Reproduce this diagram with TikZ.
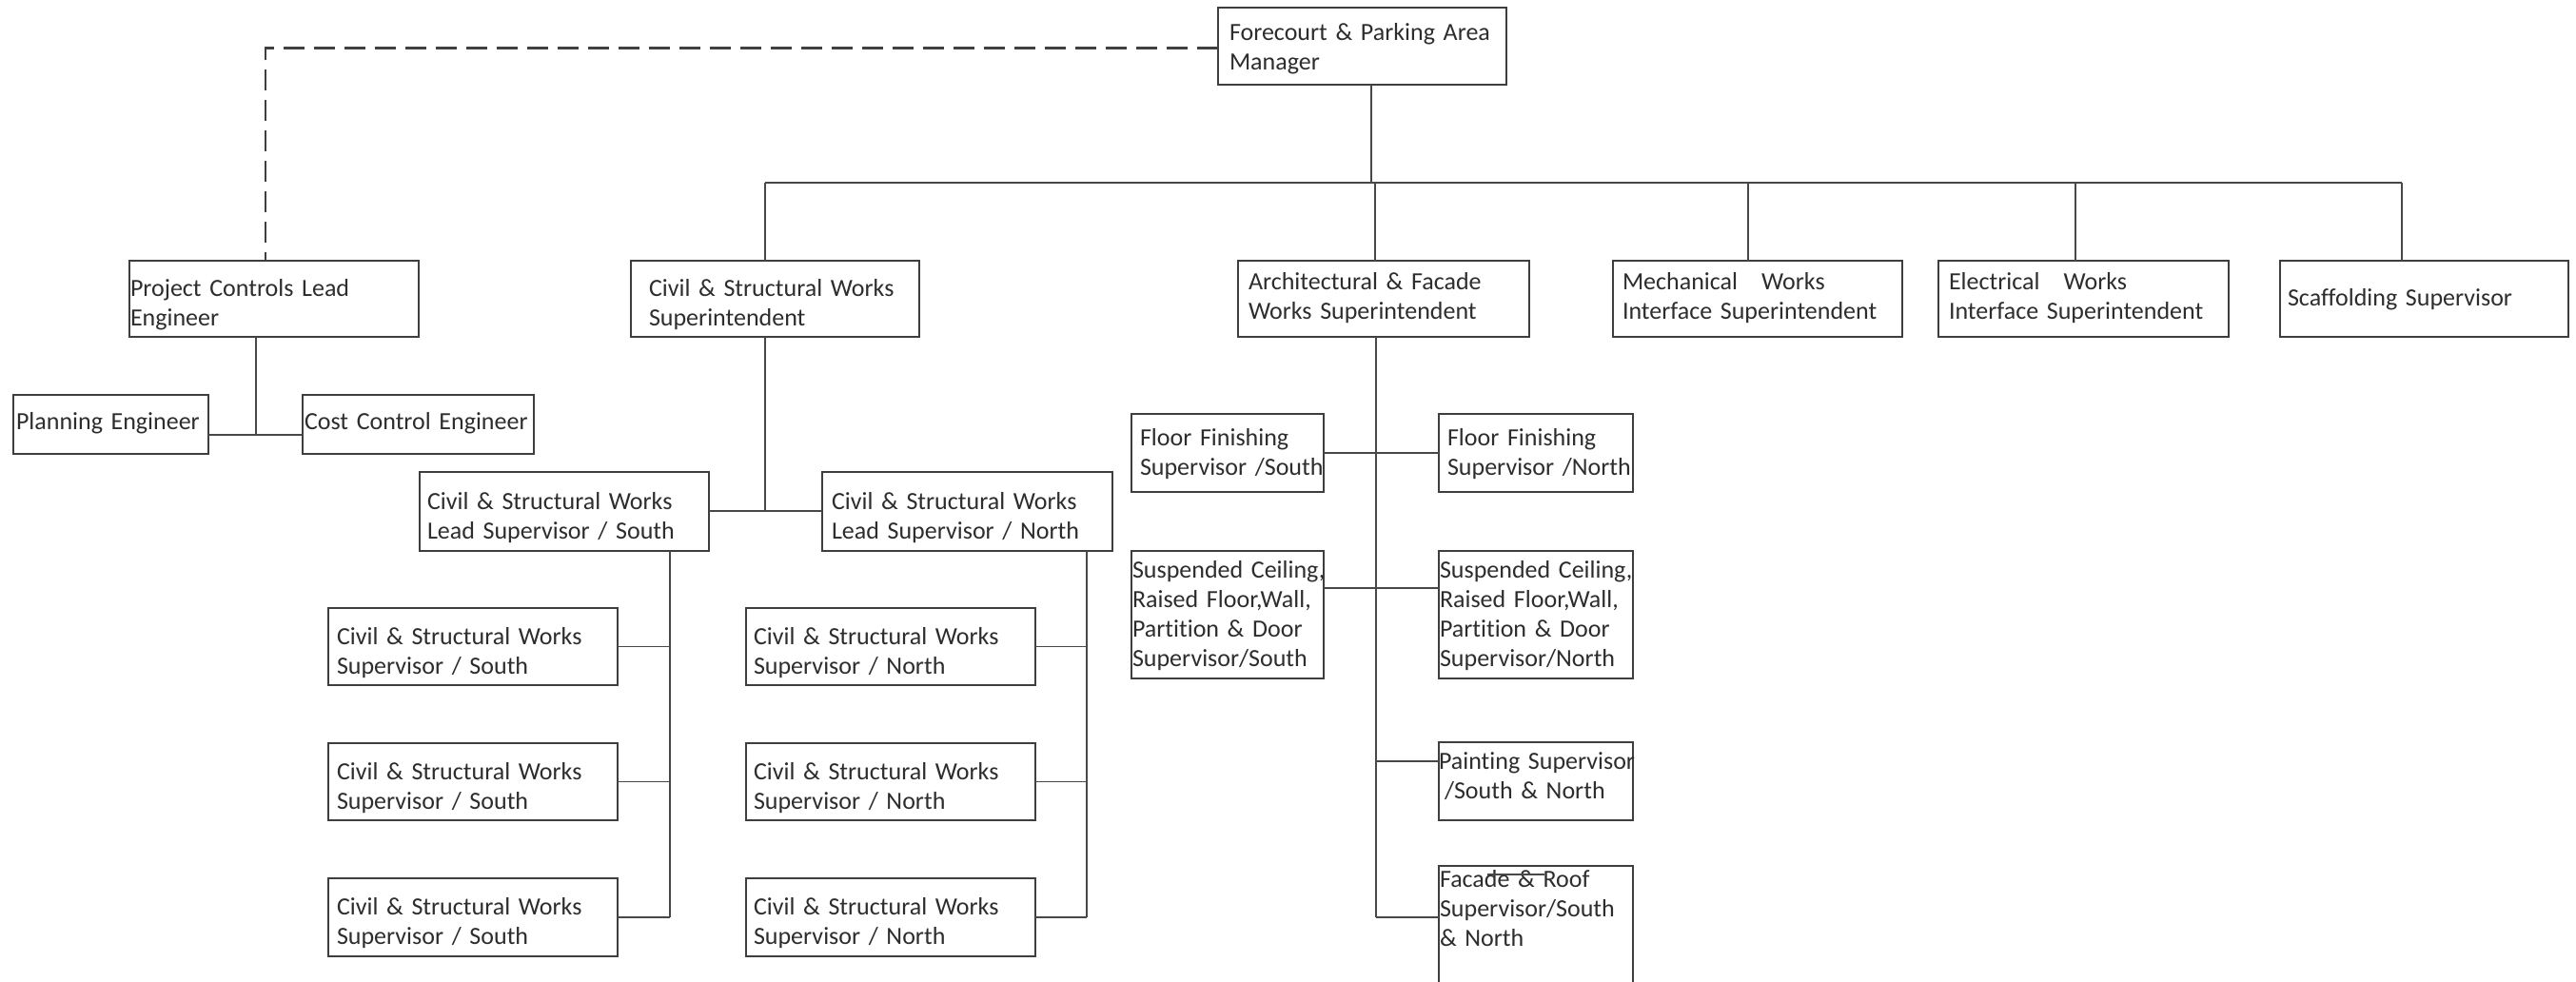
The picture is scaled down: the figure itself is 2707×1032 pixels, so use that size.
\documentclass[tikz,border=0pt]{standalone}
\usepackage{fontspec}
\setmainfont{Carlito}[Ligatures=NoCommon]
\usetikzlibrary{calc}

\definecolor{edgec}{RGB}{62,62,62}
\definecolor{linkc}{RGB}{72,72,72}
\definecolor{txtc}{RGB}{45,45,45}

% stacked lines of a box label, never re-wrapped; \rowdrop lowers them
\newlength\rowdrop
\newcommand\rows[1]{\raisebox{-\rowdrop}[\height][\depth]{\begin{tabular}{@{}l@{}}#1\end{tabular}}}

\tikzset{
  unit/.style={draw=edgec, line width=1.8pt, anchor=north west, outer sep=0pt,
    inner ysep=0pt, text=txtc,
    font=\fontsize{26}{31}\selectfont},
  orgbox/.style n args={3}{unit, minimum width=#1pt, minimum height=#2pt,
    inner xsep=#3pt, text width=#1pt-2*#3pt},
  drop/.style={execute at begin node={\setlength{\rowdrop}{#1pt}}},
  link/.style={draw=linkc, line width=1.8pt},
  dotted link/.style={draw=black!75, line width=2.4pt, dash pattern=on 22pt off 10pt},
}

\begin{document}
\begin{tikzpicture}[x=1pt, y=-1pt]
\useasboundingbox (0,0) rectangle (2707,1032);

% top manager
\node[orgbox={303}{81}{12}, drop=3] (forecourt) at (1280,8) {\rows{Forecourt \& Parking Area\\Manager}};

% first level
\node[orgbox={304}{80}{1}, drop=7]  (pcl)   at (136,274)  {\rows{Project Controls Lead\\Engineer}};
\node[orgbox={303}{80}{19}, drop=7] (civil) at (663,274)  {\rows{Civil \& Structural Works\\Superintendent}};
\node[orgbox={306}{80}{11}] (arch)  at (1301,274) {\rows{Architectural \& Facade\\Works Superintendent}};
\node[orgbox={304}{80}{10}] (mech)  at (1695,274) {\rows{Mechanical\hspace{25pt}Works\\Interface Superintendent}};
\node[orgbox={305}{80}{11}] (elec)  at (2037,274) {\rows{Electrical\hspace{25pt}Works\\Interface Superintendent}};
\node[orgbox={303}{80}{8}, drop=1]  (scaff) at (2396,274) {\rows{Scaffolding Supervisor}};

% project controls team
\node[orgbox={205}{62}{3}, drop=-1] (planning) at (14,415)  {\rows{Planning Engineer}};
\node[orgbox={243}{62}{2}, drop=-1] (cost)     at (318,415) {\rows{Cost Control Engineer}};

% civil & structural team
\node[orgbox={304}{83}{8}, drop=7]  (leadS) at (441,496) {\rows{Civil \& Structural Works\\Lead Supervisor / South}};
\node[orgbox={305}{83}{10}, drop=7] (leadN) at (864,496) {\rows{Civil \& Structural Works\\Lead Supervisor / North}};

\node[orgbox={304}{81}{9}, drop=7] (csS1) at (345,639) {\rows{Civil \& Structural Works\\Supervisor / South}};
\node[orgbox={304}{81}{9}, drop=7] (csS2) at (345,781) {\rows{Civil \& Structural Works\\Supervisor / South}};
\node[orgbox={304}{82}{9}, drop=7] (csS3) at (345,923) {\rows{Civil \& Structural Works\\Supervisor / South}};

\node[orgbox={304}{81}{8}, drop=7] (csN1) at (784,639) {\rows{Civil \& Structural Works\\Supervisor / North}};
\node[orgbox={304}{81}{8}, drop=7] (csN2) at (784,781) {\rows{Civil \& Structural Works\\Supervisor / North}};
\node[orgbox={304}{82}{8}, drop=7] (csN3) at (784,923) {\rows{Civil \& Structural Works\\Supervisor / North}};

% architectural & facade team
\node[orgbox={202}{82}{9}, drop=2]  (ffS) at (1189,435) {\rows{Floor Finishing\\Supervisor /South}};
\node[orgbox={204}{82}{9}, drop=2]  (ffN) at (1512,435) {\rows{Floor Finishing\\Supervisor /North}};
\node[orgbox={202}{134}{1}, drop=2] (scS) at (1189,579) {\rows{Suspended Ceiling,\\Raised Floor,Wall,\\Partition \& Door\\Supervisor/South}};
\node[orgbox={204}{134}{1}, drop=2] (scN) at (1512,579) {\rows{Suspended Ceiling,\\Raised Floor,Wall,\\Partition \& Door\\Supervisor/North}};
\node[orgbox={204}{82}{0}, drop=-3] (paint) at (1512,780) {\rows{Painting Supervisor\\\hspace{6pt}/South \& North}};
\node[unit, inner xsep=1pt, inner ysep=1pt, text width=202pt, text depth=140pt] (facade) at (1512,910)
  {\begin{tabular}[t]{@{}l@{}}Facade \& Roof\\Supervisor/South\\\& North\end{tabular}};
\draw[linkc, line width=1.4pt] ($(facade.north west)+(51,9)$) -- ($(facade.north west)+(111,9)$);

% junction points
\coordinate (tCivil) at (804,192);
\coordinate (tTop)   at (1441,192);
\coordinate (tArch)  at (1445,192);
\coordinate (tMech)  at (1837,192);
\coordinate (tElec)  at (2181,192);
\coordinate (tScaff) at (2524,192);
\coordinate (pclJ)   at (269,457);
\coordinate (csJ)    at (804,537);
\coordinate (sJ)     at (704,964);
\coordinate (nJ)     at (1142,964);
\coordinate (aJ)     at (1446,964);

% dashed staff link
\draw[dotted link] ([yshift=-2pt]forecourt.west) -| ([xshift=-9pt]pcl.north);

% main bus
\draw[link] (tCivil) -- (tScaff);
\draw[link] (tTop |- forecourt.south) -- (tTop);
\draw[link] (tCivil) -- (tCivil |- civil.north);
\draw[link] (tArch)  -- (tArch |- arch.north);
\draw[link] (tMech)  -- (tMech |- mech.north);
\draw[link] (tElec)  -- (tElec |- elec.north);
\draw[link] (tScaff) -- (tScaff |- scaff.north);

% project controls
\draw[link] (pclJ |- pcl.south) -- (pclJ);
\draw[link] (planning.east |- pclJ) -- (cost.west |- pclJ);

% civil & structural
\draw[link] (csJ |- civil.south) -- (csJ);
\draw[link] (leadS.east |- csJ) -- (leadN.west |- csJ);
\draw[link] (sJ |- leadS.south) -- (sJ);
\draw[link] (csS1.east) -- (csS1.east -| sJ);
\draw[link] (csS2.east) -- (csS2.east -| sJ);
\draw[link] (csS3.east) -- (csS3.east -| sJ);
\draw[link] (nJ |- leadN.south) -- (nJ);
\draw[link] (csN1.east) -- (csN1.east -| nJ);
\draw[link] (csN2.east) -- (csN2.east -| nJ);
\draw[link] (csN3.east) -- (csN3.east -| nJ);

% architectural & facade
\draw[link] (aJ |- arch.south) -- (aJ);
\draw[link] (ffS.east) -- (ffN.west);
\draw[link] ([yshift=28pt]scS.east) -- ([yshift=28pt]scN.west);
\draw[link] ([yshift=21pt]paint.west) -- ([yshift=21pt]paint.west -| aJ);
\draw[link] (aJ) -- (aJ -| facade.west);
\end{tikzpicture}
\end{document}
